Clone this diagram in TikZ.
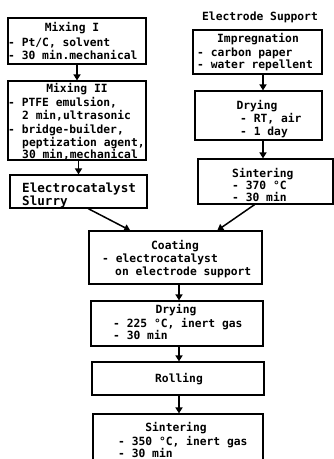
\documentclass[tikz,border=0pt]{standalone}
\usepackage{fontspec}
\newfontfamily\diagmono{DejaVu Sans Mono}
\usetikzlibrary{arrows.meta,calc}
\begin{document}
\begin{tikzpicture}[x=1pt,y=-1pt,
  box/.style={draw,line width=1.2pt,inner sep=0pt},
  txt/.style={font=\diagmono\bfseries\fontsize{11.3}{13}\selectfont,inner sep=0pt,text height=8pt,text depth=0pt,anchor=west},
  ctxt/.style={txt,anchor=center},
  big/.style={font=\diagmono\bfseries\fontsize{12.6}{14}\selectfont},
  arr/.style={line width=1.5pt,-{Triangle[length=6pt,width=7pt]}}]
\clip (0,0) rectangle (334,459);
\fill[white] (0,0) rectangle (334,459);
% left column
\node[box,minimum width=138pt,minimum height=46pt] (m1) at (77,41) {};
\node[ctxt] (m1t) at (72,27) {Mixing I};
\node[txt] (m1a) at (8,42) {- Pt/C, solvent};
\node[txt] (m1b) at (8,55) {- 30 min.mechanical};
\node[box,minimum width=138pt,minimum height=79pt] (m2) at (77,120.5) {};
\node[ctxt] (m2t) at (77,88) {Mixing II};
\node[txt] (m2a) at (8,102) {- PTFE emulsion,};
\node[txt] (m2b) at (22,115) {2 min,ultrasonic};
\node[txt] (m2c) at (8,129) {- bridge-builder,};
\node[txt] (m2d) at (22,142) {peptization agent,};
\node[txt] (m2e) at (22,154) {30 min,mechanical};
\node[box,minimum width=137pt,minimum height=33pt] (sl) at (78.5,191.5) {};
\node[txt,big] (sla) at (22,188) {Electrocatalyst};
\node[txt,big] (slb) at (22,201) {Slurry};
% right column
\node[ctxt] (es) at (260,16) {Electrode Support};
\node[box,minimum width=129pt,minimum height=44pt] (imp) at (257.5,52) {};
\node[ctxt] (impt) at (258,38) {Impregnation};
\node[txt] (impa) at (197,52) {- carbon paper};
\node[txt] (impb) at (197,64) {- water repellent};
\node[box,minimum width=127pt,minimum height=49pt] (dr1) at (258.5,115.5) {};
\node[ctxt] (dr1t) at (257,105) {Drying};
\node[txt] (dr1a) at (240,118) {- RT, air};
\node[txt] (dr1b) at (240,131) {- 1 day};
\node[box,minimum width=135pt,minimum height=45pt] (si1) at (265.5,181.5) {};
\node[txt] (si1t) at (232,173) {Sintering};
\node[txt] (si1a) at (232,185) {- 370 °C};
\node[txt] (si1b) at (232,197) {- 30 min};
% bottom column
\node[box,minimum width=173pt,minimum height=53pt] (co) at (175.5,257.5) {};
\node[ctxt] (cot) at (175,245) {Coating};
\node[txt] (coa) at (102,258) {- electrocatalyst};
\node[txt] (cob) at (115,271) {on electrode support};
\node[box,minimum width=172pt,minimum height=45pt] (dr2) at (177,323.5) {};
\node[ctxt] (dr2t) at (176,309) {Drying};
\node[txt] (dr2a) at (113,323) {- 225 °C, inert gas};
\node[txt] (dr2b) at (113,335) {- 30 min};
\node[box,minimum width=172pt,minimum height=33pt] (ro) at (178,378.5) {};
\node[ctxt] (rot) at (179,378) {Rolling};
\node[box,minimum width=170pt,minimum height=60pt] (si2) at (178,444) {};
\node[ctxt] (si2t) at (176,427) {Sintering};
\node[txt] (si2a) at (118,441) {- 350 °C, inert gas};
\node[txt] (si2b) at (118,453) {- 30 min};
% connectors
\draw[arr] (m1.south) -- (m1.south |- m2.north);
\draw[arr] ([xshift=1.5pt]m2.south) -- ([xshift=1.5pt]m2.south |- sl.north);
\draw[arr] ([xshift=5.5pt]imp.south) -- ([xshift=5.5pt]imp.south |- dr1.north);
\draw[arr] ([xshift=4.5pt]dr1.south) -- ([xshift=4.5pt]dr1.south |- si1.north);
\draw[arr] ($(sl.south west)!0.57!(sl.south east)$) -- ($(co.north west)!0.24!(co.north east)$);
\draw[arr] ($(si1.south west)!0.42!(si1.south east)$) -- ($(co.north west)!0.74!(co.north east)$);
\draw[arr] ([xshift=3.5pt]co.south) -- ([xshift=3.5pt]co.south |- dr2.north);
\draw[arr] ([xshift=2pt]dr2.south) -- ([xshift=2pt]dr2.south |- ro.north);
\draw[arr] ([xshift=1pt]ro.south) -- ([xshift=1pt]ro.south |- si2.north);
\end{tikzpicture}
\end{document}
